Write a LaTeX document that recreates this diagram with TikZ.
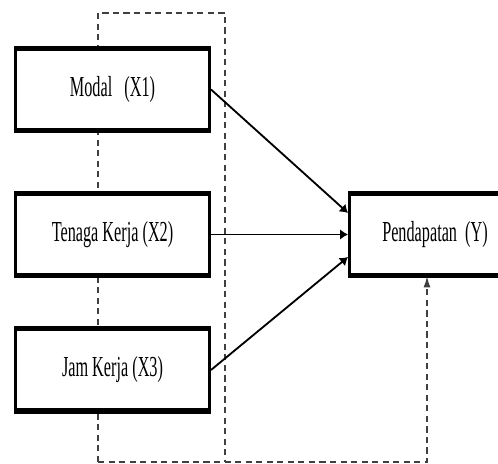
\documentclass[tikz,border=0pt]{standalone}
\usepackage{fontspec}
\setmainfont{Liberation Serif}[FakeStretch=0.56]
\usetikzlibrary{arrows.meta, positioning}

\begin{document}
\begin{tikzpicture}[
    varbox/.style = {draw, fill=white, line width=1.7pt, minimum width=3.88cm,
                     minimum height=1.6cm, inner sep=0pt,
                     font=\fontsize{16.5}{18}\selectfont},
    hedge/.style = {line width=2.8pt},
    link/.style = {line width=1.05pt, -{Latex[length=4.5pt, width=6pt]}},
    dashline/.style = {black!75, line width=0.9pt, dash pattern=on 3.5pt off 2.5pt}]
    \useasboundingbox (0,0) rectangle (9.96,9.28);

    % dashed frame
    \coordinate (tl) at (1.96,9.02);
    \coordinate (tr) at (4.50,9.02);
    \coordinate (bl) at (1.96,0.04);
    \coordinate (br) at (8.54,0.04);
    \draw[dashline] (bl) -- (tl) -- (tr) -- (tr |- bl);

    \node[varbox] (x1) at (2.25,7.49) {Modal~~~(X1)};
    \node[varbox] (x2) at (2.25,4.59) {Tenaga Kerja (X2)};
    \node[varbox] (x3) at (2.25,1.88) {Jam Kerja (X3)};
    \node[varbox, minimum width=3.42cm] (y) at (8.70,4.59) {Pendapatan~~(Y)};

    % thicker top and bottom edges
    \foreach \n in {x1, x2, x3, y} {
        \draw[hedge] (\n.north west) -- (\n.north east);
        \draw[hedge] (\n.south west) -- (\n.south east);
    }

    \draw[link] (x1.east) -- ([yshift=0.43cm]y.west);
    \draw[link] (x2.east) -- (y.west);
    \draw[link] (x3.east) -- ([yshift=-0.45cm]y.west);

    \draw[dashline, -{Latex[length=6.5pt, width=4pt]}] (bl) -- (br) -- (y.south -| br);
\end{tikzpicture}
\end{document}
